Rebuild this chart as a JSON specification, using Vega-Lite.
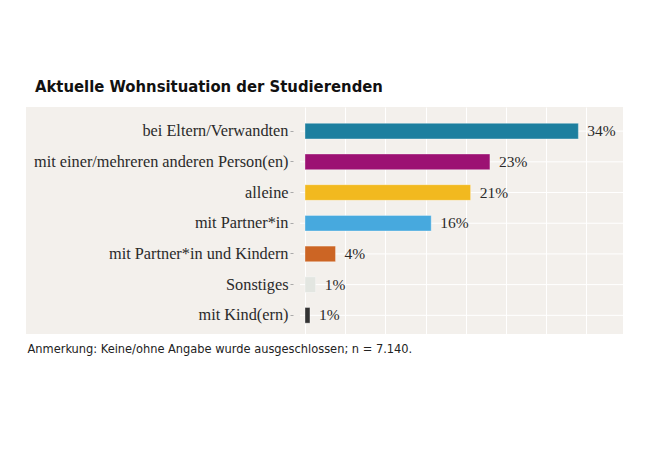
{
  "$schema": "https://vega.github.io/schema/vega-lite/v6.json",
  "width": 597,
  "height": 227,
  "autosize": {"type": "none"},
  "padding": {"left": 26, "top": 107, "right": 27, "bottom": 116},
  "background": "white",
  "config": {"view": {"fill": "#f3f0ec", "stroke": null}},
  "title": {
    "text": "Aktuelle Wohnsituation der Studierenden",
    "anchor": "start",
    "frame": "group",
    "dx": 9,
    "dy": 1,
    "offset": 0,
    "baseline": "alphabetic",
    "font": "DejaVu Sans Condensed",
    "fontWeight": "bold",
    "fontSize": 16.5,
    "color": "#111111"
  },
  "data": {
    "values": [
      {"kategorie": "bei Eltern/Verwandten", "anteil": 0.34},
      {"kategorie": "mit einer/mehreren anderen Person(en)", "anteil": 0.23},
      {"kategorie": "alleine", "anteil": 0.206},
      {"kategorie": "mit Partner*in", "anteil": 0.157},
      {"kategorie": "mit Partner*in und Kindern", "anteil": 0.038},
      {"kategorie": "Sonstiges", "anteil": 0.0133},
      {"kategorie": "mit Kind(ern)", "anteil": 0.0062}
    ]
  },
  "encoding": {
    "y": {
      "field": "kategorie",
      "type": "nominal",
      "sort": null,
      "scale": {"paddingInner": 0.49, "paddingOuter": 0.442, "align": 0.6},
      "axis": {
        "title": null,
        "offset": -267,
        "domain": false,
        "grid": false,
        "tickSize": 3,
        "tickColor": "#aaaaaa",
        "tickWidth": 1,
        "labelPadding": 2,
        "labelFont": "Liberation Serif",
        "labelFontSize": 16.3,
        "labelColor": "#2a2a2a",
        "labelLimit": 0
      }
    }
  },
  "layer": [
    {
      "mark": {"type": "rule", "color": "white", "strokeWidth": 1},
      "encoding": {
        "x": {
          "datum": -0.0062,
          "type": "quantitative",
          "scale": {"domain": [-0.0062, 0.3955], "range": [274, 597], "nice": false, "zero": false},
          "axis": {
            "values": [0, 0.05, 0.1, 0.15, 0.2, 0.25, 0.3, 0.35],
            "labels": false,
            "ticks": false,
            "domain": false,
            "grid": true,
            "gridColor": "white",
            "gridWidth": 1,
            "title": "Anmerkung: Keine/ohne Angabe wurde ausgeschlossen; n = 7.140.",
            "titleX": 1,
            "titleY": 18,
            "titleAlign": "left",
            "titleAnchor": null,
            "titleBaseline": "alphabetic",
            "titleFont": "DejaVu Sans Condensed",
            "titleFontWeight": "normal",
            "titleFontSize": 12.7,
            "titleColor": "#222222"
          }
        },
        "x2": {"datum": 0.3955}
      }
    },
    {
      "mark": {"type": "bar", "stroke": "white", "strokeWidth": 0.6, "strokeOpacity": 0.6},
      "encoding": {
        "x": {"field": "anteil", "type": "quantitative"},
        "color": {
          "field": "kategorie",
          "type": "nominal",
          "legend": null,
          "scale": {
            "domain": ["bei Eltern/Verwandten", "mit einer/mehreren anderen Person(en)", "alleine", "mit Partner*in", "mit Partner*in und Kindern", "Sonstiges", "mit Kind(ern)"],
            "range": ["#1d7f9f", "#9c1173", "#f2b91f", "#47a9de", "#cc6524", "#e3e6e1", "#333333"]
          }
        }
      }
    },
    {
      "mark": {"type": "text", "align": "left", "baseline": "middle", "dx": 9, "dy": 0, "font": "Liberation Serif", "fontSize": 15.5, "color": "#2a2a2a"},
      "encoding": {
        "x": {"field": "anteil", "type": "quantitative"},
        "text": {"field": "anteil", "type": "quantitative", "format": ".0%"}
      }
    }
  ]
}
